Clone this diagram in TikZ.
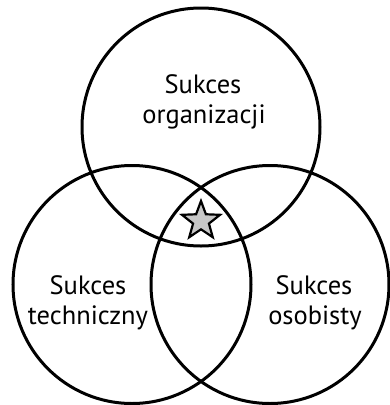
\documentclass[tikz,border=0pt]{standalone}
\usepackage{fontspec}
\setmainfont{PT Sans}
\usetikzlibrary{shapes.geometric}
\begin{document}
\begin{tikzpicture}[x=1pt,y=-1pt,
  ring/.style={draw=black,line width=3pt},
  lbl/.style={align=center,font=\fontsize{26.5}{30}\selectfont,inner sep=0pt,anchor=base},
  starmark/.style={star,star points=5,star point ratio=2.4,minimum size=40pt,inner sep=0pt,draw=black,line width=2.2pt,fill=black!22}]
\useasboundingbox (0,0) rectangle (389,405);
\draw[ring] (201,127) circle (119);
\draw[ring] (132,284.5) circle (119);
\draw[ring] (270,284.5) circle (119);
\node[starmark] (st) at (201,221) {};
\node[lbl] (org1) at (203,93) {Sukces};
\node[lbl] (org2) at (204,123) {organizacji};
\node[lbl] (tec1) at (88,294) {Sukces};
\node[lbl] (tec2) at (88,324) {techniczny};
\node[lbl] (oso1) at (314,294) {Sukces};
\node[lbl] (oso2) at (315,324) {osobisty};
\end{tikzpicture}
\end{document}
